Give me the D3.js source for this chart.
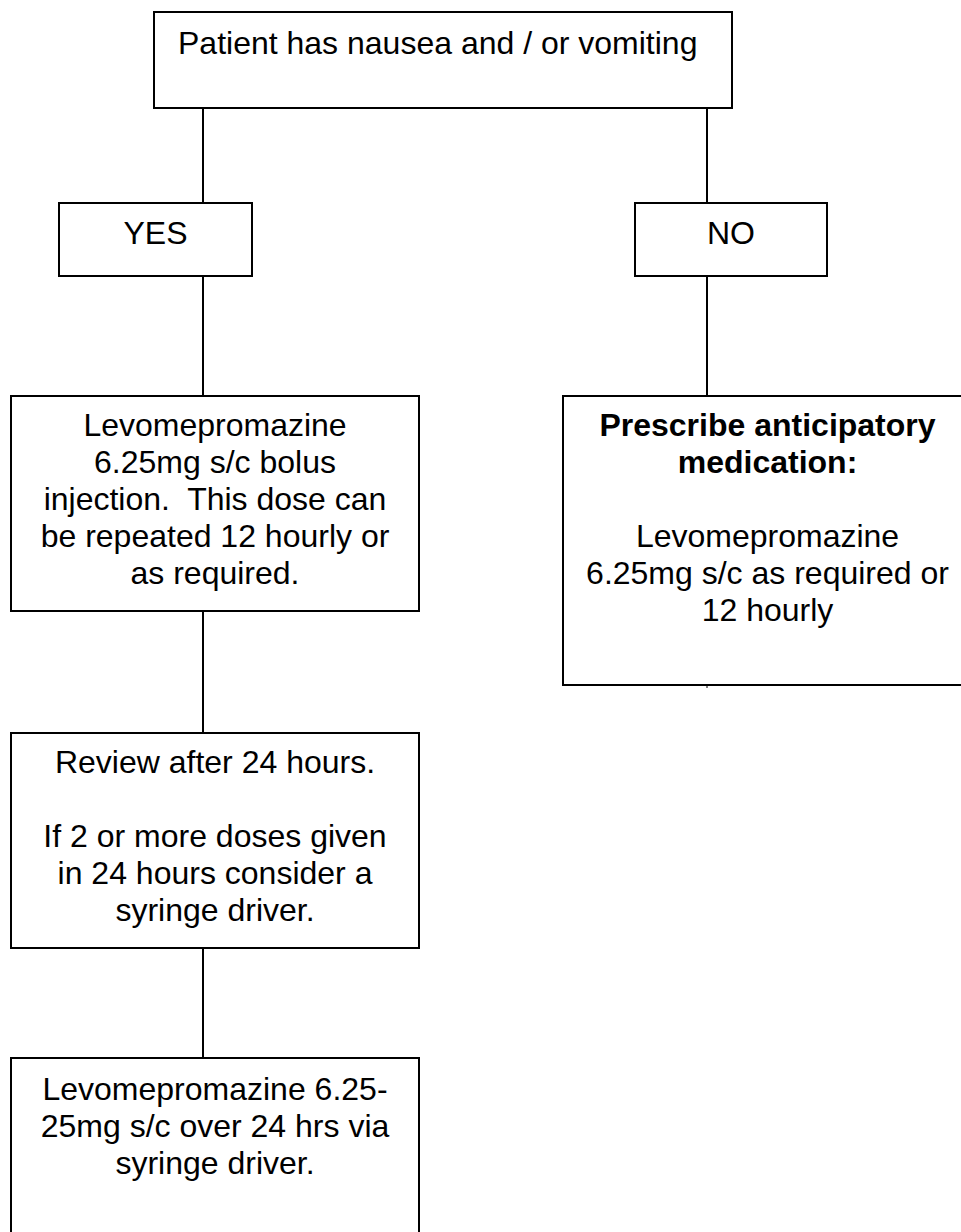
<!DOCTYPE html>
<html>
<head>
<meta charset="utf-8">
<script src="https://cdn.jsdelivr.net/npm/d3@7"></script>
<style>
  html, body { margin: 0; padding: 0; background: #fff; }
  svg { display: block; }
  text { white-space: pre; }
</style>
</head>
<body>
<div id="render-zone"></div>
<script>
(function( w ) {

"use strict";

/* node ids, in drawing order */
var nodeIds = [ "start", "yes", "no", "bolus", "anticip", "review", "driver" ];

/* the words in each box ("" is an empty line) */
var startText   = [ "Patient has nausea and / or vomiting" ],
    yesText     = [ "YES" ],
    noText      = [ "NO" ],
    bolusText   = [ "Levomepromazine", "6.25mg s/c bolus", "injection.  This dose can",
                    "be repeated 12 hourly or", "as required." ],
    anticipText = [ "Prescribe anticipatory", "medication:", "",
                    "Levomepromazine", "6.25mg s/c as required or", "12 hourly" ],
    anticipBold = [ true, true, false, false, false, false ],
    reviewText  = [ "Review after 24 hours.", "", "If 2 or more doses given",
                    "in 24 hours consider a", "syringe driver." ],
    driverText  = [ "Levomepromazine 6.25-", "25mg s/c over 24 hrs via", "syringe driver." ];

/* which box connects to which */
var links = [ [ "start", "yes" ], [ "start", "no" ], [ "yes", "bolus" ],
              [ "no", "anticip" ], [ "bolus", "review" ], [ "review", "driver" ] ];

var _d = {
    dimensions : { width : 961, height : 1232 },
    font : "'Liberation Sans', Arial, Helvetica, sans-serif",
    fontSize : 32,
    lineHeight : 37,
    stroke : 2,
    /* box geometry: x, y, w, h, first baseline, and where its connector sits */
    layout : {
        start   : { x : 154, y : 12,   w : 578, h : 96,  base : 42, align : "start", pad : 24 },
        yes     : { x : 59,  y : 203,  w : 193, h : 73,  base : 41, port : 203 },
        no      : { x : 635, y : 203,  w : 192, h : 73,  base : 41, port : 707 },
        bolus   : { x : 11,  y : 396,  w : 408, h : 215, base : 40, port : 203 },
        anticip : { x : 563, y : 396,  w : 409, h : 289, base : 40, port : 707 },
        review  : { x : 11,  y : 733,  w : 408, h : 215, base : 40, port : 203 },
        driver  : { x : 11,  y : 1058, w : 408, h : 220, base : 42, port : 203 }
    }
};

var texts = {
    start : startText, yes : yesText, no : noText, bolus : bolusText,
    anticip : anticipText, review : reviewText, driver : driverText
};
var bolds = { anticip : anticipBold };

/* _render
 * draws the boxes, the connectors and the words
*/
var _render = function( ) {
    var svg = d3.select( "#render-zone" ).append( "svg" )
            .attr( "width", _d.dimensions.width )
            .attr( "height", _d.dimensions.height ),
        lay = _d.layout;

    svg.append( "rect" )
        .attr( "width", _d.dimensions.width )
        .attr( "height", _d.dimensions.height )
        .attr( "fill", "#fff" );

    /* connectors go under the boxes */
    svg.append( "g" ).attr( "data-name", "links" )
        .selectAll( "line" )
        .data( links )
        .join( "line" )
        .attr( "x1", function( l ){ return lay[ l[1] ].port; } )
        .attr( "x2", function( l ){ return lay[ l[1] ].port; } )
        .attr( "y1", function( l ){ return lay[ l[0] ].y + lay[ l[0] ].h; } )
        .attr( "y2", function( l ){ return lay[ l[1] ].y; } )
        .attr( "stroke", "#000" )
        .attr( "stroke-width", _d.stroke );

    /* small stub under the anticipatory box */
    svg.append( "line" )
        .attr( "x1", lay.anticip.port ).attr( "x2", lay.anticip.port )
        .attr( "y1", lay.anticip.y + lay.anticip.h )
        .attr( "y2", lay.anticip.y + lay.anticip.h + 3 )
        .attr( "stroke", "#000" ).attr( "stroke-width", 1 );

    var nodes = svg.append( "g" ).attr( "data-name", "nodes" )
        .selectAll( "g" )
        .data( nodeIds )
        .join( "g" )
        .attr( "transform", function( id ){ return "translate(" + lay[id].x + "," + lay[id].y + ")"; } );

    nodes.append( "rect" )
        .attr( "width", function( id ){ return lay[id].w; } )
        .attr( "height", function( id ){ return lay[id].h; } )
        .attr( "fill", "#fff" )
        .attr( "stroke", "#000" )
        .attr( "stroke-width", _d.stroke );

    nodes.each( function( id ){
        var box = lay[id],
            left = box.align === "start",
            txt = d3.select( this ).append( "text" )
                .attr( "font-family", _d.font )
                .attr( "font-size", _d.fontSize )
                .attr( "fill", "#000" )
                .attr( "text-anchor", left ? "start" : "middle" );

        txt.selectAll( "tspan" )
            .data( texts[id] )
            .join( "tspan" )
            .attr( "x", left ? box.pad : box.w / 2 )
            .attr( "y", function( t, i ){ return box.base + i * _d.lineHeight; } )
            .attr( "font-weight", function( t, i ){ return bolds[id] && bolds[id][i] ? "bold" : "normal"; } )
            .text( function( t ){ return t; } );
    });
};

_render( );

})( window );
</script>
</body>
</html>
